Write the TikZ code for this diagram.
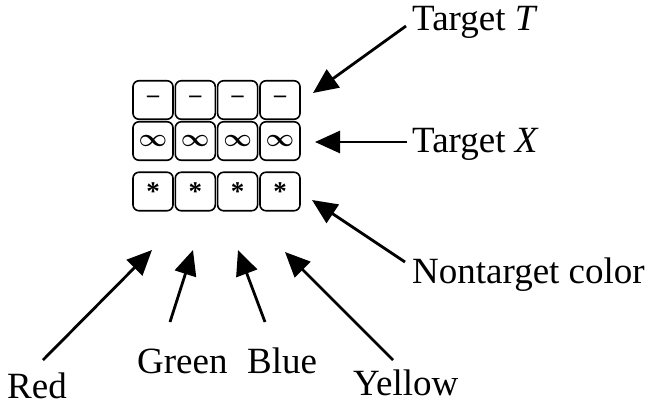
\documentclass[tikz,border=0pt]{standalone}
\usepackage{fontspec}
\setmainfont{Liberation Serif}
\usetikzlibrary{arrows.meta}
\begin{document}
\begin{tikzpicture}[x=1pt,y=-1pt,
  cell/.style={draw,line width=1.6pt,rounded corners=6pt,minimum width=40pt,minimum height=38.5pt,inner sep=0pt},
  lab/.style={anchor=base west,inner sep=0pt,font=\fontsize{37}{40}\selectfont},
  arr/.style={line width=2.8pt,-{Triangle[length=25pt,width=22pt]}},
  dsh/.style={font=\fontsize{24}{26}\selectfont\bfseries},
  inf/.style={font=\fontsize{27}{28}\selectfont\boldmath},
  ast/.style={font=\fontsize{27}{28}\selectfont\bfseries}]
\useasboundingbox (0,0) rectangle (650,405);
% cells
\foreach \i/\x in {1/153,2/195.3,3/237.6,4/280}{
  \node[cell,dsh] (a\i) at (\x,100) {\raisebox{1pt}{–}};
  \node[cell,inf] (b\i) at (\x,141) {$\infty$};
  \node[cell,ast] (c\i) at (\x,191.5) {\raisebox{-7pt}{*}};
}
% labels
\node[lab] (tT) at (412,30) {Target \textit{T}};
\node[lab] (tX) at (412,152) {Target \textit{X}};
\node[lab] (tN) at (412,283) {Nontarget color};
\node[lab] (tR) at (7,398) {Red};
\node[lab] (tG) at (137,373) {Green};
\node[lab] (tB) at (247,373) {Blue};
\node[lab] (tY) at (353,395) {Yellow};
% arrow ends
\coordinate (eT) at (406,26);  \coordinate (pT) at (313,93);
\coordinate (eX) at (407,142); \coordinate (pX) at (315,142);
\coordinate (eN) at (405,262); \coordinate (pN) at (312,200);
\coordinate (eR) at (43,360);  \coordinate (pR) at (152,250);
\coordinate (eG) at (170,322); \coordinate (pG) at (193,250);
\coordinate (eB) at (265,322); \coordinate (pB) at (238,250);
\coordinate (eY) at (393,360); \coordinate (pY) at (285,252);
\foreach \k in {T,X,N,R,G,B,Y}{\draw[arr] (e\k) -- (p\k);}
\end{tikzpicture}
\end{document}
